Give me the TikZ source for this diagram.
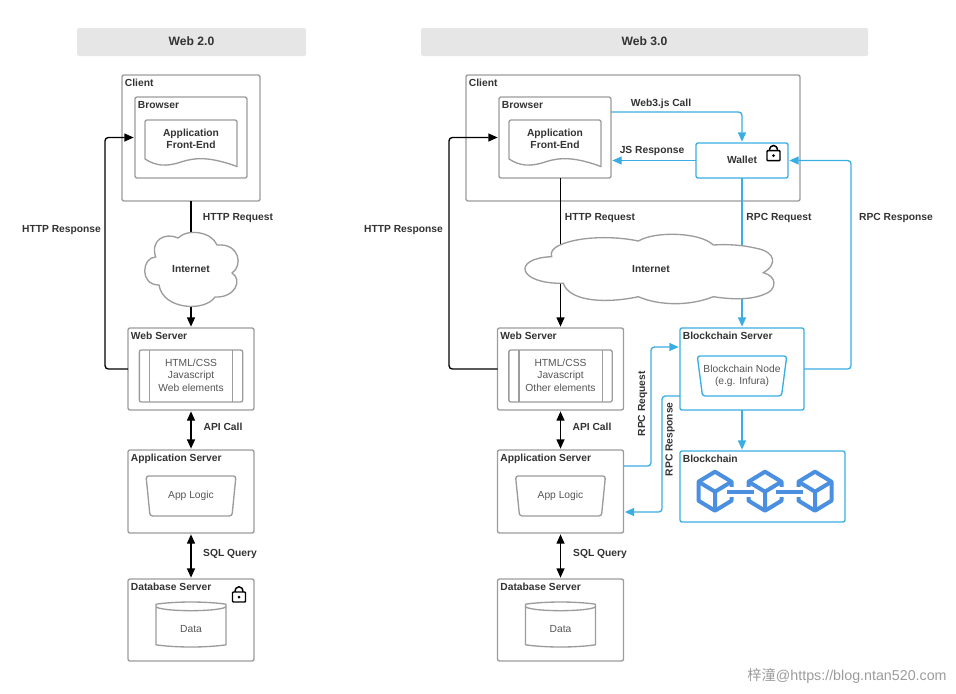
\documentclass[tikz,border=0pt]{standalone}
\usepackage{fontspec}
\setmainfont{Liberation Sans}
\newfontfamily\cjkfont{Noto Sans CJK SC}
\usetikzlibrary{arrows.meta, positioning, shapes.geometric}
\definecolor{boxgray}{HTML}{9C9C9C}
\definecolor{txtdark}{HTML}{333333}
\definecolor{txtsoft}{HTML}{555555}
\definecolor{bandgray}{HTML}{E6E6E6}
\definecolor{chainblue}{HTML}{3AAEE2}
\definecolor{cubeblue}{HTML}{4A8FE0}
\tikzset{
    box/.style={draw=boxgray, line width=1pt, rounded corners=1.5pt, fill=white, outer sep=0pt, inner sep=0pt},
    serverbox/.style={box, minimum width=94.5pt, minimum height=61.5pt},
    bluebox/.style={draw=chainblue},
    boxtitle/.style={anchor=north west, inner sep=2pt, yshift=-0.75pt, text=txtdark, font=\fontsize{7.7}{9.3}\selectfont\bfseries},
    linklabel/.style={inner sep=0pt, text height=5.6pt, text depth=1.6pt, yshift=-1pt, text=txtdark, font=\fontsize{7.7}{9.3}\selectfont\bfseries},
    frontlabel/.style={inner sep=0pt, align=center, text=txtdark, font=\fontsize{7.7}{9.3}\selectfont\bfseries},
    innertext/.style={text=txtsoft, align=center, font=\fontsize{7.7}{9.3}\selectfont},
    band/.style={fill=bandgray, rounded corners=1.5pt, minimum height=21pt, text depth=1.5pt, text=txtdark, font=\fontsize{9.1}{11}\selectfont\bfseries},
    logicbox/.style={box, rounded corners=2pt, trapezium, shape border rotate=180, trapezium stretches=true, trapezium left angle=77, trapezium right angle=77, minimum width=67.5pt, minimum height=30pt, innertext},
    codebox/.style={box, minimum width=77.5pt, minimum height=39pt, text depth=1.5pt, innertext},
    datacan/.style={box, cylinder, shape border rotate=90, aspect=0.4, minimum width=52.5pt, minimum height=33.75pt, text height=8.5pt, innertext},
    blackline/.style={draw=black, line width=1pt, rounded corners=2.5pt, -{Triangle[length=7pt,width=6pt]}, shorten >=1pt},
    blackboth/.style={blackline, {Triangle[length=7pt,width=6pt]}-{Triangle[length=7pt,width=6pt]}, shorten <=1pt},
    blueline/.style={draw=chainblue, line width=1pt, rounded corners=2.5pt, -{Triangle[length=7pt,width=6pt]}, shorten >=1pt},
    cloudline/.style={draw=boxgray, line width=1pt, fill=white},
    chainlink/.style={draw=cubeblue, line width=3pt, preaction={draw=white, line width=8pt}},
    lockicon/.pic={
        \draw[black, line width=1.1pt, rounded corners=0.6pt] (-6.5,-4) rectangle (6.5,6);
        \draw[black, line width=1.1pt] (-4,-4) .. controls (-4,-11) and (4,-11) .. (4,-4);
        \fill[black] (0,1) circle (1.5);
    },
    cubeicon/.pic={
        \draw[cubeblue, line width=3pt, line join=round] (0,-19.5) -- (16.5,-9.5) -- (16.5,9.5) -- (0,19.5) -- (-16.5,9.5) -- (-16.5,-9.5) -- cycle;
        \draw[cubeblue, line width=3pt, line join=round] (-16.5,-9.5) -- (0,0.5) -- (16.5,-9.5) (0,0.5) -- (0,19.5);
    },
    pagecurl/.pic={
        \draw[boxgray, line width=1pt, fill=white, rounded corners=1.5pt] (-46,159) -- (-46,120) -- (46,120) -- (46,167);
        \draw[boxgray, line width=1pt] (46,166.5) .. controls (20,157) and (5,157) .. (-10,162) .. controls (-25,167) and (-35,166) .. (-46,159);
    }
}
\begin{document}
\begin{tikzpicture}[x=0.75pt, y=-0.75pt]
        \useasboundingbox (0,0) rectangle (956,693);

        % Nodes
        \node[band, minimum width=171.75pt] (band2) at (191.5,42) {Web 2.0};
        \node[band, minimum width=335.25pt] (band3) at (644.5,42) {Web 3.0};

        % Web 2.0 column
        \node[box, minimum width=103.5pt, minimum height=94.5pt] (client2) at (191,138) {};
        \node[box, minimum width=84pt, minimum height=60.75pt] (browser2) at (191,137.5) {};
        \node[serverbox] (web2) at (191,369) {};
        \node[serverbox, minimum height=62.25pt, below=30pt of web2] (app2) {};
        \node[serverbox, below=34.5pt of app2] (db2) {};
        \pic at (191,0) {pagecurl};
        \node[frontlabel] (front2) at (191,139) {Application\\Front-End};
        \node[codebox] (html2) at (191,376) {HTML/CSS\\Javascript\\Web elements};
        \node[logicbox] (logic2) at (191,496) {App Logic};
        \node[datacan] (data2) at (191,627) {Data};
        \pic at (239,596) {lockicon};

        % Web 3.0 column
        \node[box, minimum width=250.5pt, minimum height=94.5pt] (client3) at (633,138) {};
        \node[box, minimum width=84pt, minimum height=60.75pt] (browser3) at (555,137.5) {};
        \node[box, bluebox, minimum width=69pt, minimum height=26.25pt] (wallet) at (742,160.5) {};
        \node[serverbox] (web3) at (560.5,369) {};
        \node[serverbox, minimum height=62.25pt, below=30pt of web3] (app3) {};
        \node[serverbox, below=34.5pt of app3] (db3) {};
        \node[serverbox, bluebox, minimum width=93pt] (bcserver) at (742,369) {};
        \node[box, bluebox, minimum width=123.75pt, minimum height=53.25pt] (chain) at (762.5,486.5) {};
        \pic at (555,0) {pagecurl};
        \node[frontlabel] (front3) at (555,139) {Application\\Front-End};
        \node[codebox] (html3) at (560.5,376) {HTML/CSS\\Javascript\\Other elements};
        \node[logicbox] (logic3) at (560.5,496) {App Logic};
        \node[datacan] (data3) at (560.5,627) {Data};
        \node[logicbox, draw=chainblue] (bcnode) at (742,376) {Blockchain Node\\(e.g. Infura)};
        \pic at (773.5,154.7) {lockicon};
        \pic at (715,491.2) {cubeicon};
        \pic at (765,491.2) {cubeicon};
        \pic at (815,491.2) {cubeicon};
        \node[linklabel] (walletlabel) at (742,159.5) {Wallet};

        % Box titles
        \node[boxtitle] (client2t) at (client2.north west) {Client};
        \node[boxtitle] (browser2t) at (browser2.north west) {Browser};
        \node[boxtitle] (web2t) at (web2.north west) {Web Server};
        \node[boxtitle] (app2t) at (app2.north west) {Application Server};
        \node[boxtitle] (db2t) at (db2.north west) {Database Server};
        \node[boxtitle] (client3t) at (client3.north west) {Client};
        \node[boxtitle] (browser3t) at (browser3.north west) {Browser};
        \node[boxtitle] (web3t) at (web3.north west) {Web Server};
        \node[boxtitle] (app3t) at (app3.north west) {Application Server};
        \node[boxtitle] (db3t) at (db3.north west) {Database Server};
        \node[boxtitle] (bcservert) at (bcserver.north west) {Blockchain Server};
        \node[boxtitle] (chaint) at (chain.north west) {Blockchain};

        % Arrows
        \coordinate (back2) at (105,137.5);
        \coordinate (back3) at (449,137.5);
        \coordinate (rpcout) at (651,347);
        \coordinate (rpcback) at (662,512);
        \coordinate (rpcwallet) at (851,160.5);
        \draw[blackline] (client2.south) -- (web2.north);
        \draw[blackline] (web2.west) -| (back2) -- (browser2.west);
        \draw[blackboth] (web2.south) -- (app2.north);
        \draw[blackboth] (app2.south) -- (db2.north);
        \draw[blackline] (browser3.south -| web3.north) -- (web3.north);
        \draw[blackline] (web3.west) -| (back3) -- (browser3.west);
        \draw[blackboth] (web3.south) -- (app3.north);
        \draw[blackboth] (app3.south) -- (db3.north);
        \draw[blueline] ([yshift=19.1pt]browser3.east) -| (wallet.north);
        \draw[blueline] (wallet.west) -- (wallet.west -| browser3.east);
        \draw[blueline] (wallet.south) -- (bcserver.north);
        \draw[blueline] (bcserver.east) -| (rpcwallet) -- (wallet.east);
        \draw[blueline] (bcserver.south) -- (bcserver.south |- chain.north);
        \draw[blueline] ([yshift=19.1pt]app3.east) -| (rpcout) -- (rpcout -| bcserver.west);
        \draw[blueline] ([yshift=-20.25pt]bcserver.west) -| (rpcback) -- (rpcback -| app3.east);
        \draw[chainlink] (727,492) -- (754,492);
        \draw[chainlink] (776,492) -- (803,492);
        \draw[boxgray, line width=1pt] ([xshift=7.5pt]html2.north west) -- ([xshift=7.5pt]html2.south west);
        \draw[boxgray, line width=1pt] ([xshift=-7.5pt]html2.north east) -- ([xshift=-7.5pt]html2.south east);
        \draw[boxgray, line width=1pt] ([xshift=7.5pt]html3.north west) -- ([xshift=7.5pt]html3.south west);
        \draw[boxgray, line width=1pt] ([xshift=-7.5pt]html3.north east) -- ([xshift=-7.5pt]html3.south east);

        % Clouds
        \draw[cloudline] (155.7,257) .. controls (142,257) and (139,285) .. (159,285)
            .. controls (163,310) and (205,312) .. (215,297)
            .. controls (235,298) and (243,280) .. (232,273)
            .. controls (243,266) and (240,243) .. (217,245)
            .. controls (212,232) and (188,228) .. (178,238)
            .. controls (165,232) and (150,240) .. cycle;
        \draw[cloudline] (551.7,256.7) .. controls (512,258) and (517,284) .. (563.3,283.3)
            .. controls (570,303) and (610,303) .. (638.3,296.7)
            .. controls (660,306) and (690,306) .. (713.3,296.7)
            .. controls (735,300) and (755,300) .. (769,292)
            .. controls (775,288) and (778,277) .. (763.3,272.7)
            .. controls (776,266) and (778,252) .. (755,248)
            .. controls (742,245) and (727,244) .. (713.3,245)
            .. controls (700,232) and (655,231) .. (638.3,241)
            .. controls (615,236) and (580,236) .. (560,245)
            .. controls (553,248) and (550,252) .. cycle;
        \node[linklabel] (internet2) at (191,268) {Internet};
        \node[linklabel] (internet3) at (651,268) {Internet};

        % Labels
        \node[linklabel] (req2) at (238,216) {HTTP Request};
        \node[linklabel] (resp2) at (61.5,228) {HTTP Response};
        \node[linklabel] (api2) at (223,426) {API Call};
        \node[linklabel] (sql2) at (230,552) {SQL Query};
        \node[linklabel] (req3) at (600,216) {HTTP Request};
        \node[linklabel] (resp3) at (403.5,228) {HTTP Response};
        \node[linklabel] (api3) at (592,426) {API Call};
        \node[linklabel] (sql3) at (600,552) {SQL Query};
        \node[linklabel] (web3call) at (661,102) {Web3.js Call};
        \node[linklabel] (jsresp) at (652,149) {JS Response};
        \node[linklabel] (rpcreq) at (779,216) {RPC Request};
        \node[linklabel] (rpcresp) at (896,216) {RPC Response};
        \node[linklabel, rotate=90] (rpcreqv) at (642.5,402.5) {RPC Request};
        \node[linklabel, rotate=90] (rpcrespv) at (670,438) {RPC Response};
        \node[inner sep=0pt, text=boxgray, font=\fontsize{10.7}{12}\selectfont] (mark) at (847,676) {{\cjkfont 梓潼}@https://blog.ntan520.com};
\end{tikzpicture}
\end{document}
